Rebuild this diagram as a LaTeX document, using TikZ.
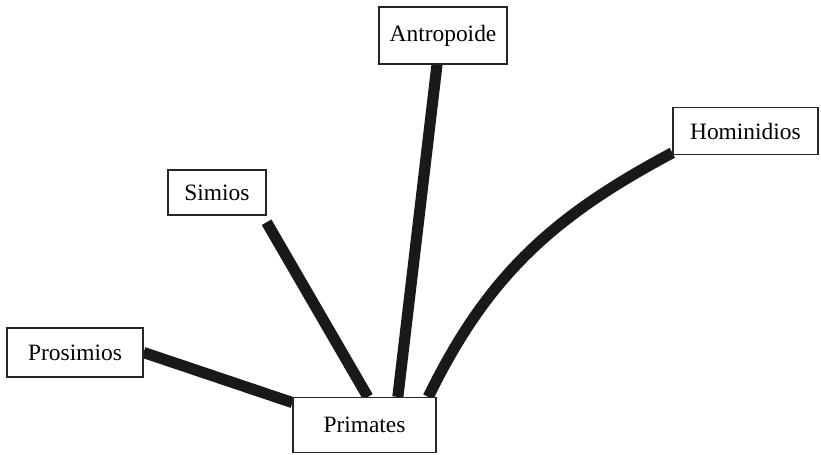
\documentclass[tikz,border=0pt]{standalone}
\usepackage{fontspec}
\setmainfont{Liberation Serif}
\usetikzlibrary{positioning, backgrounds}
\tikzset{
    box/.style={rectangle, draw=black!85, line width=1pt, fill=white, text centered, font=\fontsize{20}{24}\selectfont},
    link/.style={line width=9.5pt, black!90}
}

\begin{document}
\begin{tikzpicture}[node distance=2.5cm]

    \useasboundingbox (0,0) rectangle (24.63,-13.62);

    % Nodes
    \node (primates) [box, minimum width=4.29cm, minimum height=1.65cm] at (10.935,-12.75) {Primates};
    \node (antropoide) [box, above of=primates, xshift=2.355cm, yshift=9.185cm, minimum width=3.84cm, minimum height=1.71cm] {Antropoide};
    \node (hominidios) [box, above right of=primates, xshift=9.66cm, yshift=7.04cm, minimum width=4.35cm, minimum height=1.41cm] {Hominidios};
    \node (simios) [box, above of=primates, xshift=-4.425cm, yshift=4.475cm, minimum width=2.94cm, minimum height=1.35cm] {Simios};
    \node (prosimios) [box, left of=primates, xshift=-6.185cm, yshift=2.175cm, minimum width=4.08cm, minimum height=1.47cm] {Prosimios};

    % Links
    \begin{pgfonlayer}{background}
    \draw [link] (prosimios.east) -- ([yshift=-0.17cm]primates.north west);
    \draw [link] ([yshift=-0.2cm]simios.south east) -- ([xshift=0.1cm]primates.north);
    \draw [link] ([xshift=-0.18cm]antropoide.south) -- ([xshift=1cm]primates.north);
    \draw [link] ([yshift=0.08cm]hominidios.south west) to[out=208, in=64] ([xshift=-0.25cm]primates.north east);
    \end{pgfonlayer}

\end{tikzpicture}
\end{document}
